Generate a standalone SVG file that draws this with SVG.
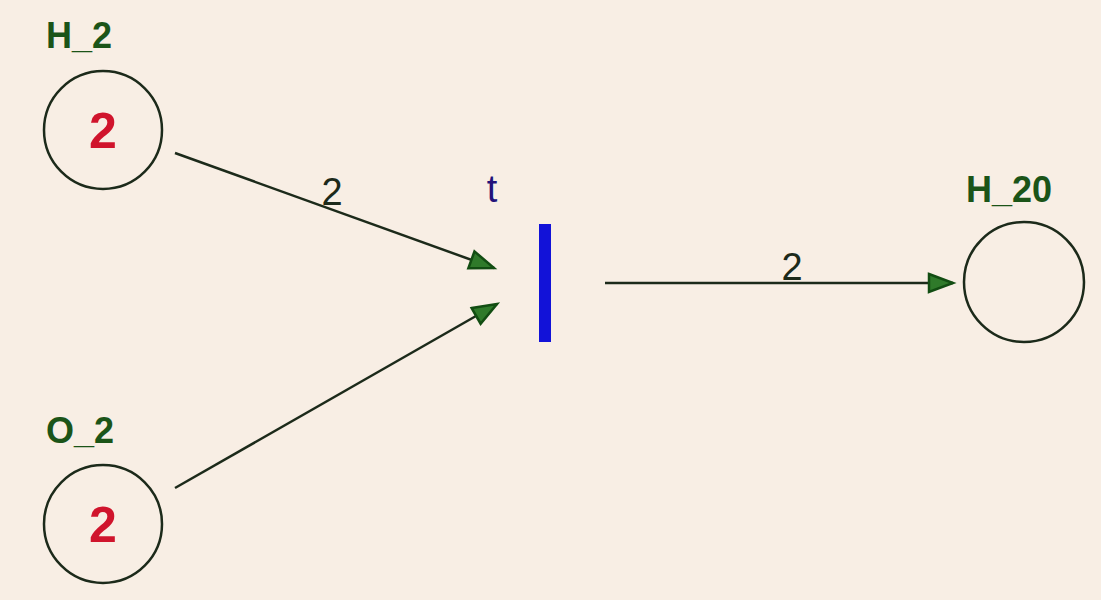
<svg xmlns="http://www.w3.org/2000/svg" width="1101" height="600" viewBox="0 0 1101 600">
<style>
.place{fill:none;stroke:#1c2a1a;stroke-width:2.5}
.lbl{font-family:"Liberation Sans",Arial,sans-serif;font-weight:bold;font-size:36px;fill:#1b5418}
.tok{font-family:"Liberation Sans",Arial,sans-serif;font-weight:bold;font-size:50px;fill:#d0142c;text-anchor:middle}
.arc{fill:none;stroke:#1c2a1a;stroke-width:2.5}
.w{font-family:"Liberation Sans",Arial,sans-serif;font-size:38px;fill:#1c2a1a;text-anchor:middle}
</style>
<defs>
<marker id="ah" markerUnits="userSpaceOnUse" markerWidth="30" markerHeight="24" refX="26" refY="11" orient="auto">
<path d="M2,2 L26,11 L2,20 Z" fill="#2f7a2a" stroke="#124d12" stroke-width="2.5" stroke-linejoin="miter"/>
</marker>
</defs>
<rect width="1101" height="600" fill="#f8eee4"/>
<g id="connectors">
<line class="arc" x1="175" y1="153" x2="494" y2="268" marker-end="url(#ah)"/>
<text class="w" x="332" y="205">2</text>
<line class="arc" x1="175" y1="488" x2="497" y2="304" marker-end="url(#ah)"/>
<line class="arc" x1="605" y1="283" x2="953" y2="283" marker-end="url(#ah)"/>
<text class="w" x="792" y="280">2</text>
</g>
<g id="H_2">
<circle class="place" cx="103" cy="130" r="59"/>
<text class="lbl" x="46" y="48">H_2</text>
<text class="tok" x="103" y="148">2</text>
</g>
<g id="O_2">
<circle class="place" cx="103" cy="524" r="59"/>
<text class="lbl" x="46" y="443">O_2</text>
<text class="tok" x="103" y="542">2</text>
</g>
<g id="H_20">
<circle class="place" cx="1024" cy="282" r="60"/>
<text class="lbl" x="966" y="202">H_20</text>
</g>
<g id="t">
<rect x="539" y="224" width="12" height="118" fill="#1212d8"/>
<text x="492" y="202" font-family="Liberation Sans,Arial,sans-serif" font-size="38" fill="#22127a" text-anchor="middle">t</text>
</g>
</svg>
